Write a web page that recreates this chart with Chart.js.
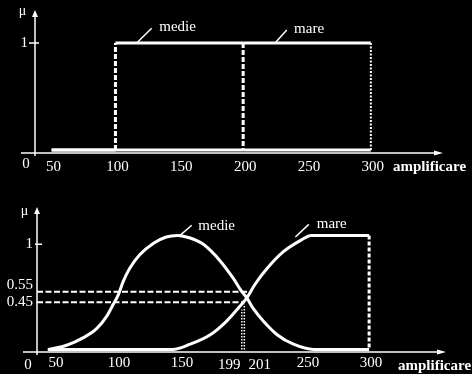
<!DOCTYPE html>
<html lang="ro">
<head>
<meta charset="UTF-8">
<title>medie / mare - amplificare</title>
<script src="https://cdn.jsdelivr.net/npm/chart.js"></script>
<style>
  body { margin: 0; background: #000; width: 472px; height: 374px; overflow: hidden; }
  .chart-box { position: relative; width: 472px; height: 187px; }
  canvas { display: block; }
</style>
</head>
<body>
<div class="chart-box"><canvas id="crispChart"></canvas></div>
<div class="chart-box"><canvas id="fuzzyChart"></canvas></div>
<script>
// top: crisp sets
const crispMedieX = [50, 100, 100, 200, 200, 300];
const crispMedie  = [0, 0, 1, 1, 0, 0];
const crispMareX  = [50, 200, 200, 300, 300];
const crispMare   = [0, 0, 1, 1, 0];
const crispTicks  = [50, 100, 150, 200, 250, 300];

// bottom: fuzzy sets
const fuzzyMedieX = [45.5, 60, 73, 84, 92, 97, 101, 105, 110, 118, 129, 139, 148, 158, 168.5, 182, 192, 199, 203, 208, 216, 227, 240, 256, 300];
const fuzzyMedie  = [0, 0.04, 0.11, 0.2, 0.32, 0.43, 0.52, 0.65, 0.77, 0.9, 1.01, 1.07, 1.085, 1.06, 1.0, 0.84, 0.68, 0.55, 0.49, 0.39, 0.27, 0.14, 0.05, 0, 0];
const fuzzyMareX  = [45, 144, 158, 174, 187, 196, 203, 209.5, 219, 232, 246, 254, 300];
const fuzzyMare   = [0, 0, 0.05, 0.14, 0.27, 0.39, 0.49, 0.62, 0.77, 0.93, 1.04, 1.085, 1.085];
const fuzzyTicks  = [50, 100, 150, 250, 300];
const cutLevels   = [0.45, 0.55];
const cutLevelEnd = [201.5, 204];
const cutX        = [199, 201];
const cutTop      = [0.38, 0.43];

// curve name anchors
const crispNameX = [116.6, 225];
const crispNameY = [1, 1];
const fuzzyNameX = [150, 241.5];
const fuzzyNameY = [1.085, 1.07];

const FONT = '"Liberation Serif", "Times New Roman", serif';
const pts = (xs, ys) => xs.map((x, i) => ({x, y: ys[i]}));
const vertical = c => c.p0.parsed.x === c.p1.parsed.x;

const decor = {
  id: 'decor',
  beforeDatasetsDraw(chart, args, o) {
    const {ctx, chartArea: a, scales: {y}} = chart;
    ctx.save();
    ctx.strokeStyle = '#fff';
    ctx.fillStyle = '#fff';
    ctx.lineWidth = 1.5;
    ctx.beginPath();
    ctx.moveTo(a.left - 14, a.bottom);
    ctx.lineTo(a.right - 6, a.bottom);
    ctx.moveTo(a.left, a.bottom + 3);
    ctx.lineTo(a.left, a.top + 5);
    const y1 = y.getPixelForValue(1);
    ctx.moveTo(a.left - o.tickIn, y1);
    ctx.lineTo(a.left + o.tickOut, y1);
    ctx.stroke();
    ctx.beginPath();
    ctx.moveTo(a.right, a.bottom);
    ctx.lineTo(a.right - 9, a.bottom - 2.5);
    ctx.lineTo(a.right - 9, a.bottom + 2.5);
    ctx.closePath();
    ctx.moveTo(a.left, a.top);
    ctx.lineTo(a.left - 3, a.top + 7);
    ctx.lineTo(a.left + 3, a.top + 7);
    ctx.closePath();
    ctx.fill();
    ctx.restore();
  },
  afterDraw(chart, args, o) {
    const {ctx, chartArea: a, scales: {x, y}} = chart;
    ctx.save();
    ctx.fillStyle = '#fff';
    ctx.strokeStyle = '#fff';
    ctx.lineWidth = 1.5;
    ctx.textAlign = 'center';
    ctx.textBaseline = 'middle';
    ctx.font = '14px ' + FONT;
    ctx.fillText('μ', a.left - 12.5, a.top + o.muDy);
    ctx.textBaseline = 'alphabetic';
    ctx.font = '15px ' + FONT;
    ctx.fillText('0', a.left - 9, a.bottom + o.zeroDy);
    (o.extraTicks || []).forEach(t => {
      ctx.fillText(String(t.value), x.getPixelForValue(t.value) + t.dx, a.bottom + o.zeroDy);
    });
    ctx.textAlign = 'left';
    ctx.font = 'bold 15px ' + FONT;
    ctx.fillText('amplificare', a.right - o.titleDx, a.bottom + 18);
    ctx.font = '15px ' + FONT;
    o.names.forEach(n => {
      const px = x.getPixelForValue(n.x), py = y.getPixelForValue(n.y);
      ctx.beginPath();
      ctx.moveTo(px, py);
      ctx.lineTo(px + n.dx, py + n.dy);
      ctx.stroke();
      ctx.fillText(n.text, px + n.tx, py + n.ty);
    });
    ctx.restore();
  }
};

function scales(xMin, xMax, yMin, yMax, xTicks, yTicks, yHeight, yWidth, xPad, yPad) {
  return {
    x: {
      type: 'linear', min: xMin, max: xMax,
      afterBuildTicks: s => { s.ticks = xTicks.map(v => ({value: v})); },
      afterFit: s => { s.height = yHeight; s.paddingLeft = 0; s.paddingRight = 0; },
      grid: {display: false, drawTicks: false},
      border: {display: false},
      ticks: {
        color: '#fff', font: {family: FONT, size: 15}, padding: xPad, labelOffset: 2,
        maxRotation: 0, autoSkip: false, callback: v => String(v)
      }
    },
    y: {
      type: 'linear', min: yMin, max: yMax,
      afterBuildTicks: s => { s.ticks = yTicks.map(v => ({value: v})); },
      afterFit: s => { s.width = yWidth; s.paddingTop = 0; s.paddingBottom = 0; },
      grid: {display: false, drawTicks: false},
      border: {display: false},
      ticks: {
        color: '#fff', padding: yPad, autoSkip: false,
        font: c => ({family: FONT, size: 15, lineHeight: c.tick && c.tick.value === 0.55 ? 0.9 : 1.2}),
        callback: v => v === 0.55 ? ['0.55', ''] : String(v)
      }
    }
  };
}

const base = {
  responsive: true,
  maintainAspectRatio: false,
  devicePixelRatio: 1,
  animation: false,
  elements: {point: {radius: 0}},
  plugins: {legend: {display: false}, tooltip: {enabled: false}}
};

// a dataset-level dash keeps Chart.js off its fast path, so each edge is drawn once
new Chart(document.getElementById('crispChart'), {
  type: 'line',
  data: {
    datasets: [
      {
        data: pts(crispMedieX, crispMedie), borderColor: '#fff', borderWidth: 3, tension: 0,
        borderDash: [5, 2],
        segment: {borderDash: c => vertical(c) ? [5, 2] : []}
      },
      {
        data: pts(crispMareX, crispMare), borderColor: '#fff', borderWidth: 3, tension: 0,
        borderDash: [5, 2],
        segment: {
          borderDash: c => vertical(c) ? (c.p0.parsed.x === 300 ? [2, 1.5] : [5, 2]) : [],
          // the edge at 200 is shared with "medie"; let that one carry the dashes
          borderColor: c => vertical(c) && c.p0.parsed.x === 200 ? 'rgba(0,0,0,0)' : '#fff',
          borderWidth: c => vertical(c) && c.p0.parsed.x === 300 ? 2 : 3
        }
      }
    ]
  },
  options: Object.assign({}, base, {
    layout: {padding: {top: 10, right: 29, left: 0, bottom: 0}},
    scales: scales(37, 356.5, -0.028, 1.308, crispTicks, [1], 34, 35, 5, 7),
    plugins: Object.assign({}, base.plugins, {
      decor: {
        tickIn: 6, tickOut: 4, muDy: 1, zeroDy: 15, titleDx: 50,
        names: [
          {text: 'medie', x: crispNameX[0], y: crispNameY[0], dx: 15, dy: -14.7, tx: 22.6, ty: -12.3},
          {text: 'mare', x: crispNameX[1], y: crispNameY[1], dx: 11.7, dy: -13, tx: 19, ty: -9.7}
        ]
      }
    })
  }),
  plugins: [decor]
});

const levelSets = cutLevels.map((lv, i) => ({
  data: pts([36.5, cutLevelEnd[i]], [lv, lv]), borderColor: '#fff', borderWidth: 2,
  borderDash: [6, 2.5], tension: 0
}));
const cutSets = cutX.map((cx, i) => ({
  data: pts([cx, cx], [0, cutTop[i]]), borderColor: '#fff', borderWidth: 1.5,
  borderDash: [1.5, 1.5], tension: 0
}));

new Chart(document.getElementById('fuzzyChart'), {
  type: 'line',
  data: {
    datasets: [
      ...levelSets,
      ...cutSets,
      {data: pts(fuzzyMedieX, fuzzyMedie), borderColor: '#fff', borderWidth: 3, cubicInterpolationMode: 'monotone'},
      {data: pts(fuzzyMareX, fuzzyMare), borderColor: '#fff', borderWidth: 3, cubicInterpolationMode: 'monotone'},
      {
        data: pts([300, 300], [fuzzyMare[fuzzyMare.length - 1], 0]), borderColor: '#fff', borderWidth: 3,
        borderDash: [4, 2], tension: 0
      }
    ]
  },
  options: Object.assign({}, base, {
    layout: {padding: {top: 20, right: 26, left: 0, bottom: 0}},
    scales: scales(36.5, 361, -0.024, 1.355, fuzzyTicks, [0.45, 0.55, 1], 22, 37, 2, 4),
    plugins: Object.assign({}, base.plugins, {
      decor: {
        tickIn: 2, tickOut: 5, muDy: 4, zeroDy: 16.5, titleDx: 48,
        extraTicks: [{value: 199, dx: -12.5}, {value: 201, dx: 15.4}],
        names: [
          {text: 'medie', x: fuzzyNameX[0], y: fuzzyNameY[0], dx: 11.7, dy: -10.1, tx: 18.3, ty: -5.1},
          {text: 'mare', x: fuzzyNameX[1], y: fuzzyNameY[1], dx: 13.4, dy: -12.6, tx: 21.4, ty: -9.2}
        ]
      }
    })
  }),
  plugins: [decor]
});
</script>
</body>
</html>
